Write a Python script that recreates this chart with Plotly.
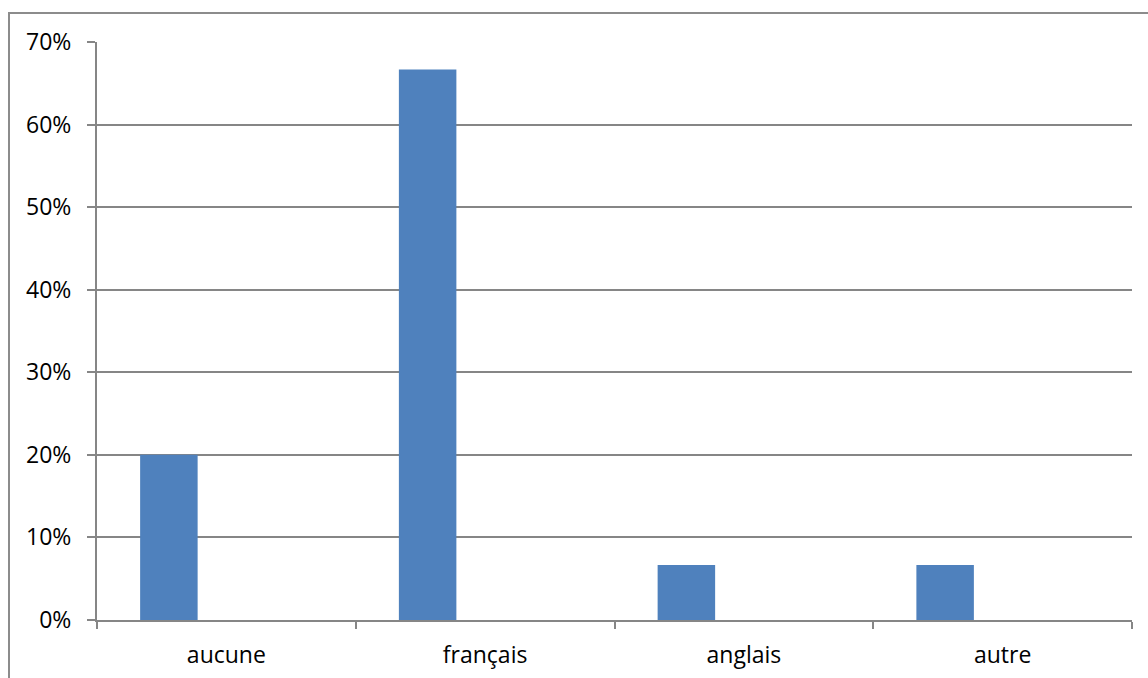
import plotly.graph_objects as go

categories = ["aucune", "français", "anglais", "autre"]
values = [0.20, 0.6667, 0.0667, 0.0667]
y_ticks = [0, 0.1, 0.2, 0.3, 0.4, 0.5, 0.6, 0.7]

fig = go.Figure()
fig.add_trace(go.Bar(
    x=categories, y=values,
    marker=dict(color="#4F81BD", line=dict(width=0)),
    width=2/9, offset=-1/3,
    hoverinfo="x+y",
))

fig.update_layout(
    width=1148, height=678,
    margin=dict(l=97, r=16, t=42, b=58),
    paper_bgcolor="white", plot_bgcolor="white",
    showlegend=False,
    font=dict(family="Open Sans, Liberation Sans, sans-serif", size=23, color="black"),
    shapes=[dict(type="rect", xref="paper", yref="paper",
                 x0=(9 - 97) / 1035, x1=1.2, y0=-0.3, y1=(620 - 13) / 578,
                 line=dict(color="#8c8c8c", width=2), layer="below")],
)
fig.update_xaxes(
    type="category", range=[-0.5, 3.5], automargin=False,
    showline=True, linecolor="#868686", linewidth=2,
    ticks="outside", ticklen=7, tickcolor="#868686", tickwidth=2,
    tickson="boundaries", showgrid=False,
    ticklabelstandoff=13,
    tickfont=dict(size=23),
)
fig.update_yaxes(
    range=[0, 0.7], tickvals=y_ticks, tickformat=".0%", automargin=False,
    showline=True, linecolor="#868686", linewidth=2,
    ticks="outside", ticklen=8, tickcolor="#868686", tickwidth=2,
    showgrid=True, gridcolor="#868686", gridwidth=2,
    zeroline=False, ticklabelstandoff=11,
    tickfont=dict(size=23),
)

fig.write_html("out.html")
